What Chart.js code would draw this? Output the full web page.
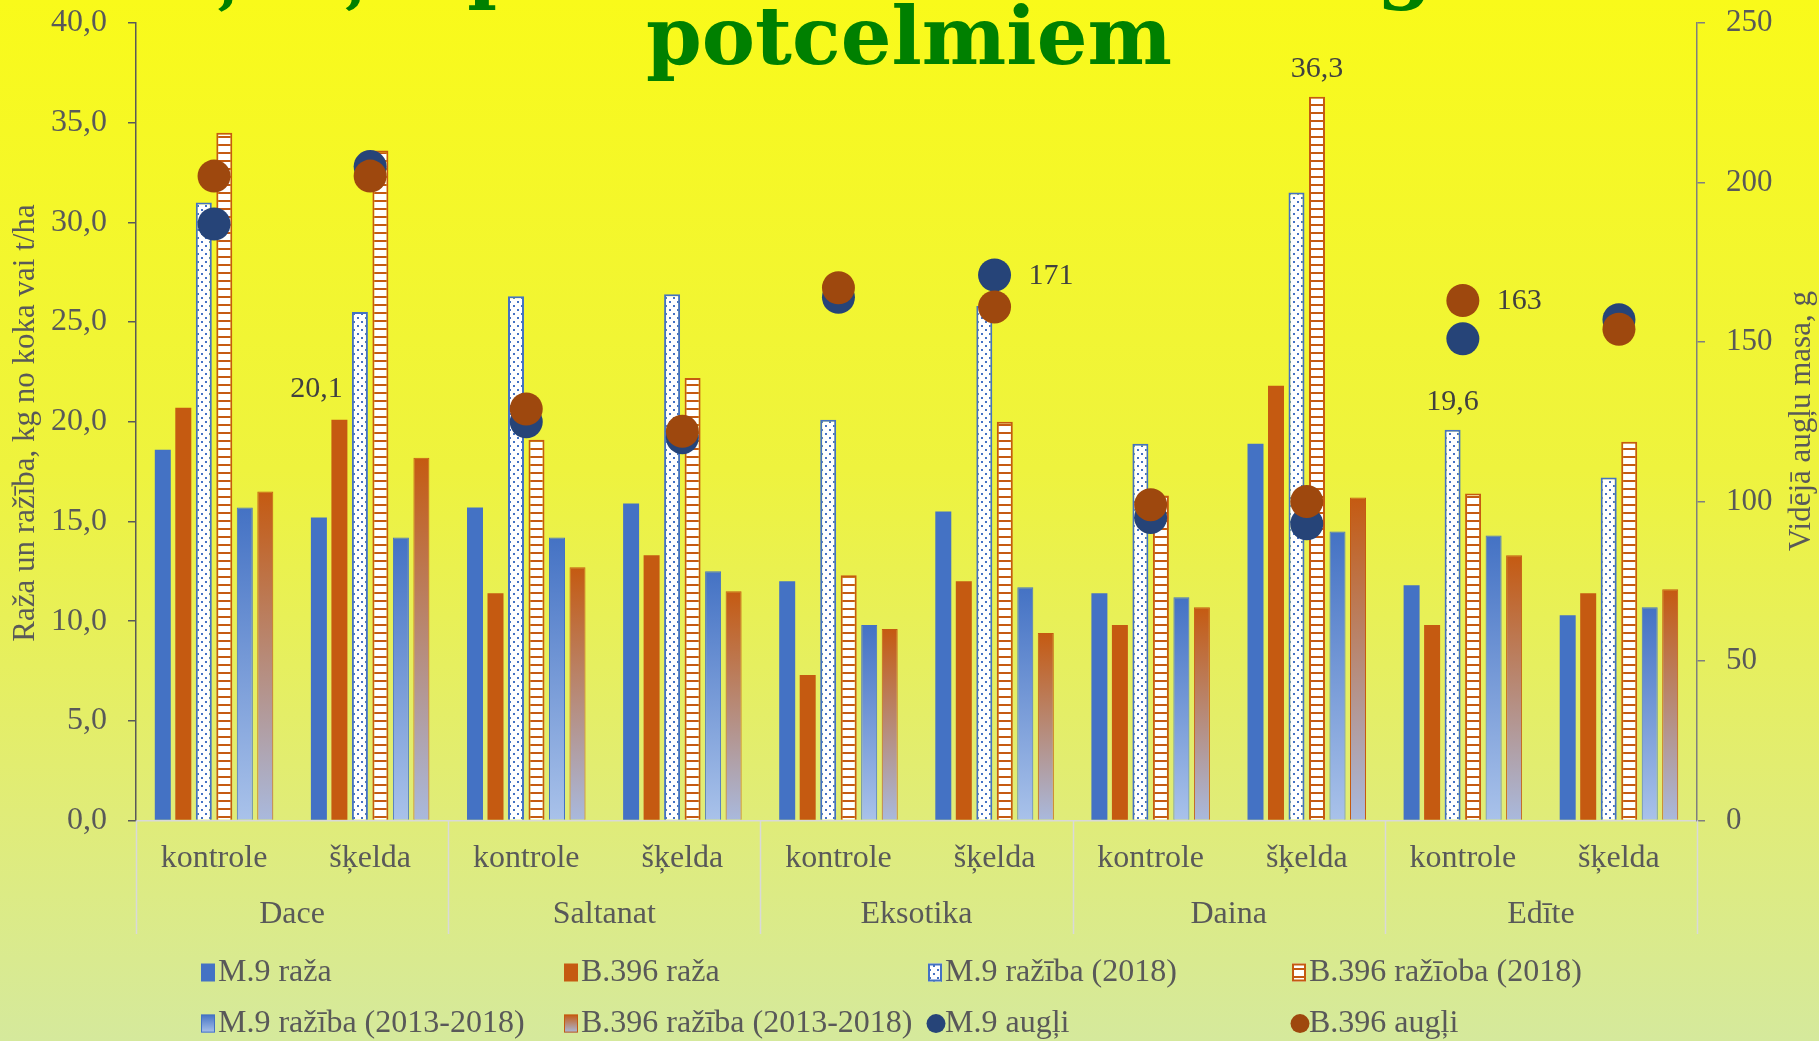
<!DOCTYPE html>
<html><head><meta charset="utf-8">
<script src="https://cdn.jsdelivr.net/npm/chart.js@4.4.1/dist/chart.umd.min.js"></script>
<style>html,body{margin:0;padding:0;background:#F9FA1A;overflow:hidden}canvas{display:block}</style>
</head><body>
<canvas id="c" width="1819" height="1041"></canvas>
<script>
// ---------- data ----------
const titleLines = ['Šķirņu produktivitāte uz augstiem', 'potcelmiem'];
const categories = ['kontrole','šķelda','kontrole','šķelda','kontrole','šķelda','kontrole','šķelda','kontrole','šķelda'];
const groups = ['Dace','Saltanat','Eksotika','Daina','Edīte'];
const seriesNames = ['M.9 raža','B.396 raža','M.9 ražība (2018)','B.396 ražīoba (2018)',
                     'M.9 ražība (2013-2018)','B.396 ražība (2013-2018)','M.9 augļi','B.396 augļi'];
const m9Raza         = [18.6, 15.2, 15.7, 15.9, 12.0, 15.5, 11.4, 18.9, 11.8, 10.3];
const b396Raza       = [20.7, 20.1, 11.4, 13.3,  7.3, 12.0,  9.8, 21.8,  9.8, 11.4];
const m9Raziba2018   = [31.0, 25.5, 26.3, 26.4, 20.1, 25.8, 18.9, 31.5, 19.6, 17.2];
const b396Raziba2018 = [34.5, 33.6, 19.1, 22.2, 12.3, 20.0, 16.3, 36.3, 16.4, 19.0];
const m9RazibaAvg    = [15.7, 14.2, 14.2, 12.5,  9.8, 11.7, 11.2, 14.5, 14.3, 10.7];
const b396RazibaAvg  = [16.5, 18.2, 12.7, 11.5,  9.6,  9.4, 10.7, 16.2, 13.3, 11.6];
const m9Augli        = [187, 205, 125, 120, 164, 171,  95,  93, 151, 157];
const b396Augli      = [202, 202, 129, 122, 167, 161,  99, 100, 163, 154];
const leftTicks  = {min: 0, max: 40, step: 5};
const rightTicks = {min: 0, max: 250, step: 50};
const yLeftTitle  = 'Raža un ražība, kg no koka vai t/ha';
const yRightTitle = 'Vidējā augļu masa, g';
// labelled points: [dataset index, data index]
const labelled = [[1,1],[3,7],[2,8],[6,5],[7,8]];

// ---------- styles ----------
const FONT = '"Liberation Serif", "Times New Roman", serif';
const TXT = '#595959';
const C = {blue:'#4472C4', orange:'#C55A11', dBlue:'#264478', brown:'#9E480E',
           blueLight:'#A9C2EA', orangeLight:'#A9B9DD'};
const canvas = document.getElementById('c');
const ctx0 = canvas.getContext('2d');

function dotPattern(){
  const c=document.createElement('canvas'); c.width=8; c.height=8;
  const x=c.getContext('2d'); x.fillStyle='#fff'; x.fillRect(0,0,8,8);
  x.fillStyle=C.blue; x.fillRect(1,1,2,2); x.fillRect(5,5,2,2);
  return ctx0.createPattern(c,'repeat');
}
function stripePattern(){
  const c=document.createElement('canvas'); c.width=8; c.height=8;
  const x=c.getContext('2d'); x.fillStyle='#fff'; x.fillRect(0,0,8,8);
  x.fillStyle=C.orange; x.fillRect(0,0,8,2);
  return ctx0.createPattern(c,'repeat');
}
const DOTS = dotPattern(), STRIPES = stripePattern();

function gradFill(top, bottom){
  return (context)=>{
    const chart=context.chart;
    if(!chart.chartArea || context.type!=='data') return top;
    const ys=chart.scales.y;
    const y1=ys.getPixelForValue(context.raw), y2=ys.getPixelForValue(0);
    const g=chart.ctx.createLinearGradient(0,y1,0,y2);
    g.addColorStop(0,top); g.addColorStop(1,bottom); return g;
  };
}

const bgPlugin = {
  id:'bg',
  beforeDraw(chart){
    const c=chart.ctx, h=chart.height;
    const g=c.createLinearGradient(0,0,0,h);
    g.addColorStop(0,'#F9FA1A'); g.addColorStop(0.45,'#EEF33E');
    g.addColorStop(0.78,'#E0EC78'); g.addColorStop(1,'#D5E99C');
    c.save(); c.fillStyle=g; c.fillRect(0,0,chart.width,h); c.restore();
  }
};

const decoPlugin = {
  id:'deco',
  afterDraw(chart){
    const c=chart.ctx, xs=chart.scales.x, area=chart.chartArea;
    c.save();
    // category labels
    c.fillStyle=TXT; c.textAlign='center'; c.textBaseline='middle';
    c.font=`32px ${FONT}`;
    categories.forEach((t,i)=>c.fillText(t, xs.getPixelForValue(i), 859));
    const cw = xs.getPixelForValue(1)-xs.getPixelForValue(0);
    groups.forEach((t,k)=>{
      const x=(xs.getPixelForValue(2*k)+xs.getPixelForValue(2*k+1))/2;
      c.fillText(t, x, 914.5);
    });
    // separators
    c.strokeStyle='#D9D9D9'; c.lineWidth=1.5;
    for(let k=0;k<=groups.length;k++){
      const x=Math.round(xs.getPixelForValue(2*k)-cw/2)+0.5;
      c.beginPath(); c.moveTo(x,area.bottom); c.lineTo(x,934); c.stroke();
    }
    // axis titles
    c.fillStyle=TXT; c.font=`31px ${FONT}`;
    c.save(); c.translate(25.5,423); c.rotate(-Math.PI/2); c.fillText(yLeftTitle,0,0); c.restore();
    c.save(); c.translate(1802,421); c.rotate(-Math.PI/2); c.fillText(yRightTitle,0,0); c.restore();

    // data labels
    c.fillStyle='#404040'; c.font=`30px ${FONT}`;
    labelled.forEach(([d,i])=>{
      const el=chart.getDatasetMeta(d).data[i];
      const v=chart.data.datasets[d].data[i];
      if(d>=6){
        c.textAlign='left'; c.fillText(String(v), el.x+34, el.y+1);
      } else {
        c.textAlign='center';
        const dx = (d===1)? -23 : 0, dy = (d===1)? -31 : -28;
        c.fillText(v.toFixed(1).replace('.',','), el.x+dx, el.y+dy);
      }
    });

    // legend
    const colX=[218,581,945,1309], rowY=[972.5,1023.6];
    c.font=`32px ${FONT}`; c.textAlign='left'; c.textBaseline='middle';
    seriesNames.forEach((name,k)=>{
      const row=Math.floor(k/4), col=k%4;
      const tx=colX[col], ty=rowY[row];
      const sx=tx-17, sy=ty-9, sw=14, sh=18;
      c.save();
      if(k===0){c.fillStyle=C.blue;c.fillRect(sx,sy,sw,sh);}
      else if(k===1){c.fillStyle=C.orange;c.fillRect(sx,sy,sw,sh);}
      else if(k===2){c.fillStyle=DOTS;c.fillRect(sx,sy,sw,sh);c.strokeStyle=C.blue;c.lineWidth=2;c.strokeRect(sx+1,sy+1,sw-2,sh-2);}
      else if(k===3){c.fillStyle=STRIPES;c.fillRect(sx,sy,sw,sh);c.strokeStyle=C.orange;c.lineWidth=2;c.strokeRect(sx+1,sy+1,sw-2,sh-2);}
      else if(k===4||k===5){
        const g=c.createLinearGradient(0,sy,0,sy+sh);
        g.addColorStop(0,k===4?C.blue:C.orange); g.addColorStop(1,k===4?C.blueLight:C.orangeLight);
        c.fillStyle=g; c.fillRect(sx,sy,sw,sh);
        c.strokeStyle=k===4?C.blue:C.orange; c.lineWidth=1; c.strokeRect(sx+0.5,sy+0.5,sw-1,sh-1);
      } else {
        c.fillStyle=k===6?C.dBlue:C.brown; c.beginPath(); c.arc(tx-9,ty,9.5,0,Math.PI*2); c.fill();
      }
      c.restore();
      c.fillStyle=TXT; c.fillText(name, tx, ty);
    });

    // title
    c.fillStyle='#008000'; c.textAlign='center'; c.textBaseline='alphabetic';
    c.font='bold 80px "DejaVu Serif", serif';
    const w2=c.measureText(titleLines[1]).width, s=526/w2;
    c.save(); c.translate(909,64); c.scale(s,1); c.fillText(titleLines[1],0,0); c.restore();
    c.save(); c.translate(909,-7); c.scale(s,1); c.fillText(titleLines[0],0,0); c.restore();
    c.restore();
  }
};

function noPad(s){ s.paddingTop=0; s.paddingBottom=0; s.paddingLeft=0; s.paddingRight=0; }
const barBase = {type:'bar', yAxisID:'y', order:10};
new Chart(canvas, {
  type:'bar',
  data:{
    labels: categories,
    datasets:[
      {...barBase, label:seriesNames[0], data:m9Raza, backgroundColor:C.blue, borderWidth:0},
      {...barBase, label:seriesNames[1], data:b396Raza, backgroundColor:C.orange, borderWidth:0},
      {...barBase, label:seriesNames[2], data:m9Raziba2018, backgroundColor:DOTS, borderColor:C.blue, borderWidth:2},
      {...barBase, label:seriesNames[3], data:b396Raziba2018, backgroundColor:STRIPES, borderColor:C.orange, borderWidth:2},
      {...barBase, label:seriesNames[4], data:m9RazibaAvg, backgroundColor:gradFill(C.blue,C.blueLight), borderColor:C.blue, borderWidth:1},
      {...barBase, label:seriesNames[5], data:b396RazibaAvg, backgroundColor:gradFill(C.orange,C.orangeLight), borderColor:C.orange, borderWidth:1},
      {type:'line', label:seriesNames[6], data:m9Augli, yAxisID:'y2', showLine:false, order:2,
       pointRadius:16.5, pointHoverRadius:16.5, pointBackgroundColor:C.dBlue, pointBorderWidth:0, borderColor:C.dBlue, backgroundColor:C.dBlue},
      {type:'line', label:seriesNames[7], data:b396Augli, yAxisID:'y2', showLine:false, order:1,
       pointRadius:16.5, pointHoverRadius:16.5, pointBackgroundColor:C.brown, pointBorderWidth:0, borderColor:C.brown, backgroundColor:C.brown}
    ]
  },
  options:{
    responsive:false, animation:false, devicePixelRatio:1,
    layout:{padding:{top:23,left:0,right:0,bottom:0}},
    plugins:{legend:{display:false}, tooltip:{enabled:false}, title:{display:false}},
    datasets:{bar:{categoryPercentage:0.788, barPercentage:0.78}},
    scales:{
      x:{offset:true, grid:{display:false, drawTicks:false}, border:{display:true, color:'#D9D9D9', width:1.5},
         ticks:{display:false}, afterFit(s){s.height=220.5; noPad(s);}},
      y:{position:'left', min:leftTicks.min, max:leftTicks.max,
         ticks:{stepSize:leftTicks.step, color:TXT, font:{family:FONT,size:32}, padding:21,
                callback:v=>Number(v).toFixed(1).replace('.',',')},
         grid:{drawOnChartArea:false, drawTicks:true, tickLength:8, color:'#595959', lineWidth:1.5},
         border:{display:true, color:'#595959', width:1.5}, afterFit(s){s.width=136; noPad(s);}},
      y2:{position:'right', min:rightTicks.min, max:rightTicks.max,
         ticks:{stepSize:rightTicks.step, color:TXT, font:{family:FONT,size:31}, padding:21},
         grid:{drawOnChartArea:false, drawTicks:true, tickLength:8, color:'#7F7F7F', lineWidth:1.5},
         border:{display:true, color:'#7F7F7F', width:1.5}, afterFit(s){s.width=122; noPad(s);}}
    }
  },
  plugins:[bgPlugin, decoPlugin]
});
</script>
</body></html>
